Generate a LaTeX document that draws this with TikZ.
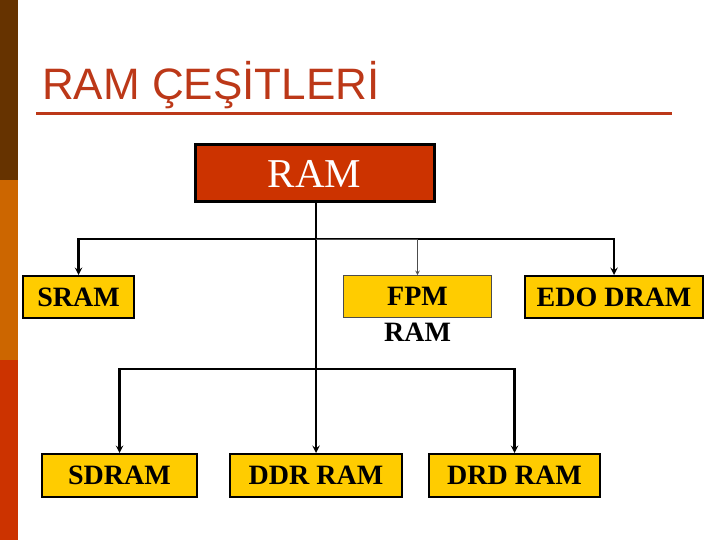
\documentclass[tikz,border=0pt]{standalone}
\usepackage{fontspec}
\usepackage{xcolor}
\usetikzlibrary{arrows}
\setmainfont{Liberation Serif}
\newfontfamily\titlefont{Liberation Sans}
\definecolor{barbrown}{RGB}{102,51,0}
\definecolor{barorange}{RGB}{204,102,0}
\definecolor{barred}{RGB}{204,51,0}
\definecolor{titlered}{RGB}{188,56,24}
\definecolor{boxyellow}{RGB}{255,204,0}

\begin{document}
\begin{tikzpicture}[x=1pt,y=-1pt,>=stealth,
  typebox/.style={draw=black,line width=2pt,fill=boxyellow,inner sep=0pt,
    minimum height=42pt,font=\fontsize{28}{30}\selectfont\bfseries},
  conn/.style={->,black,line width=2.2pt}]
\useasboundingbox (0,0) rectangle (720,540);
\fill[white] (0,0) rectangle (720,540);
\fill[barbrown] (0,0) rectangle (18,180);
\fill[barorange] (0,180) rectangle (18,360);
\fill[barred] (0,360) rectangle (18,540);
\node[anchor=base west,inner sep=0pt,text=titlered,font=\titlefont\fontsize{44}{46}\selectfont] (title) at (42,100) {RAM ÇEŞİTLERİ};
\draw[titlered,line width=3pt] (36,114) -- (672,114);
\node[draw=black,line width=3pt,fill=barred,text=white,inner sep=0pt,
  minimum width=239pt,minimum height=57pt,font=\fontsize{41}{43}\selectfont] (ram) at (314.5,173.5) {RAM};
\node[typebox,minimum width=111pt] (sram) at (78.5,297) {SRAM};
\node[typebox,draw=black!70,line width=0.8pt,minimum width=148pt,
  label={[inner sep=0pt,yshift=-5pt,font=\fontsize{28}{30}\selectfont\bfseries]below:RAM}] (fpm) at (417.5,296.5) {FPM};
\node[typebox,minimum width=178pt] (edo) at (614,297) {EDO DRAM};
\node[typebox,minimum height=43pt,minimum width=155pt] (sdram) at (119.5,475.5) {SDRAM};
\node[typebox,minimum height=43pt,minimum width=172pt] (ddr) at (316,475.5) {DDR RAM};
\node[typebox,minimum height=43pt,minimum width=171pt] (drd) at (514.5,475.5) {DRD RAM};
% bus lines
\coordinate (busA) at (316,239);
\coordinate (busB) at (316,369);
\draw[conn] (ddr.north |- ram.south) -- (ddr.north);
\draw[conn] (busA) -| (sram.north);
\draw[conn] (busA) -| (edo.north);
\draw[->,black!70,line width=1pt] (busA) -| (fpm.north);
\draw[conn] (busB) -| (sdram.north);
\draw[conn] (busB) -| (drd.north);
\end{tikzpicture}
\end{document}
